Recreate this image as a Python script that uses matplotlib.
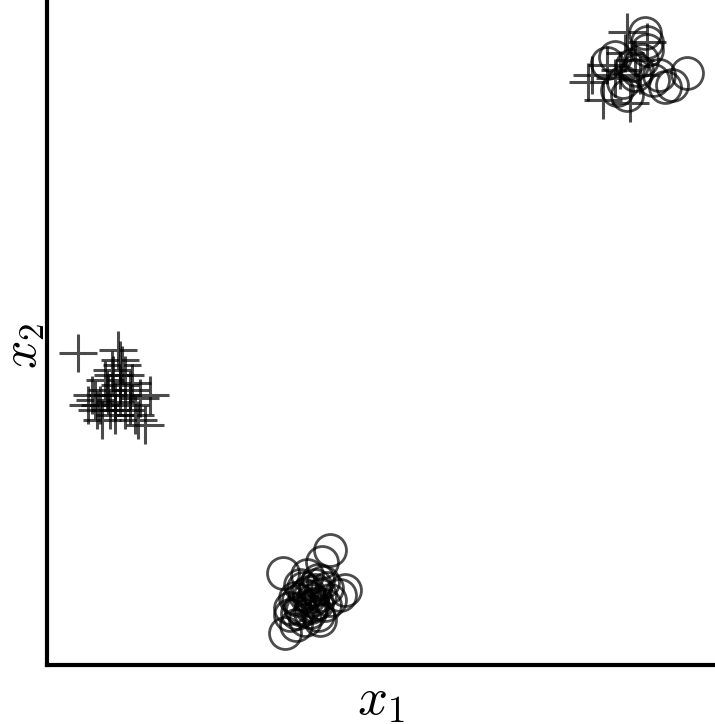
import matplotlib.pyplot as plt

plt.rcParams['mathtext.fontset'] = 'cm'

# class "+" : left cluster and top-right cluster
plus_x1 = [31, 73, 65, 78, 73, 58, 83, 93, 48, 53, 68, 63, 41, 78, 88, 98, 55, 73, 71, 103, 61, 83, 45, 91, 68,
           75, 60, 50, 85, 66,
           580, 600, 545, 541, 556, 583, 573, 588, 568, 593, 578, 560]
plus_x2 = [312, 305, 295, 290, 280, 285, 275, 267, 265, 260, 263, 255, 260, 255, 250, 240, 245, 270, 315, 270, 270, 260, 270, 245, 250,
           300, 275, 255, 282, 290,
           633, 623, 590, 583, 565, 562, 595, 605, 587, 590, 612, 600]

# class "o" : bottom cluster and top-right cluster
circ_x1 = [236, 283, 275, 260, 271, 253, 268, 258, 273, 293, 248, 265, 278, 253, 263, 243, 271, 258, 249, 238, 266, 261, 280, 251, 268, 255, 298, 283, 243, 273,
           262, 270, 256, 276, 264, 250,
           598, 600, 640, 618, 568, 606, 576, 590, 570, 600, 560, 585, 612, 625, 580, 595, 588]
circ_x2 = [92, 115, 103, 90, 85, 80, 75, 70, 70, 70, 67, 65, 60, 57, 53, 50, 50, 45, 40, 32, 60, 73, 77, 65, 80, 55, 75, 65, 57, 45,
           68, 62, 77, 83, 58, 52,
           632, 623, 592, 578, 608, 585, 583, 595, 575, 615, 602, 600, 590, 580, 570, 605, 590]

fig = plt.figure(figsize=(7.15, 7.24), dpi=100)
ax = fig.add_axes([0.0657, 0.0815, 0.9343, 0.9185])

ax.plot(plus_x1, plus_x2, linestyle='none', marker='+', markersize=27, markeredgewidth=2.2,
        color='black', alpha=0.7)
ax.plot(circ_x1, circ_x2, linestyle='none', marker='o', markersize=23, markeredgewidth=2.0,
        markerfacecolor='none', markeredgecolor='black', alpha=0.7)

ax.set_xlim(0, 668)
ax.set_ylim(0, 665)
ax.set_xticks([])
ax.set_yticks([])
for side in ['top', 'right']:
    ax.spines[side].set_visible(False)
for side in ['left', 'bottom']:
    ax.spines[side].set_linewidth(3)

ax.set_xlabel('$x_1$', fontsize=38, labelpad=6)
ax.set_ylabel('$x_2$', fontsize=36)
ax.yaxis.set_label_coords(0.0, 0.48)

fig.savefig('out.png', dpi=100)
